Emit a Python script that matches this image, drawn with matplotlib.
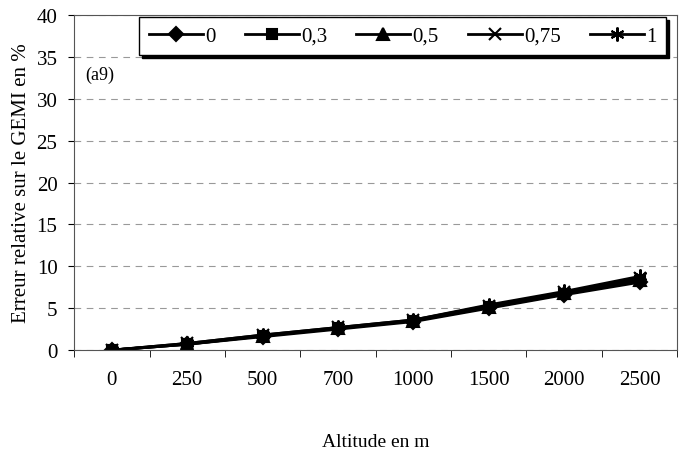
import numpy as np
import matplotlib.pyplot as plt

plt.rcParams['font.family'] = ['Liberation Serif', 'DejaVu Serif']

altitudes = ['0', '250', '500', '700', '1000', '1500', '2000', '2500']
series_labels = ['0', '0,3', '0,5', '0,75', '1']
err_0 = [0, 0.7, 1.6, 2.5, 3.4, 5.0, 6.6, 8.1]
err_03 = [0, 0.7, 1.7, 2.6, 3.5, 5.1, 6.7, 8.3]
err_05 = [0, 0.7, 1.7, 2.6, 3.5, 5.2, 6.8, 8.4]
err_075 = [0, 0.8, 1.8, 2.7, 3.6, 5.3, 6.9, 8.6]
err_1 = [0, 0.8, 1.8, 2.7, 3.6, 5.4, 7.0, 8.8]

series = [err_0, err_03, err_05, err_075, err_1]
markers = ['D', 's', '^', 'x', (6, 2, 0)]
msizes = [7, 7, 8, 8, 10]

fig = plt.figure(figsize=(6.8, 4.56), dpi=100)
ax = fig.add_axes([0.109, 0.230, 0.887, 0.735])

x = np.arange(len(altitudes))
for vals, lab, m, ms in zip(series, series_labels, markers, msizes):
    ax.plot(x, vals, color='black', lw=2, marker=m, ms=ms, mew=1.5,
            label=lab)

ax.set_xlim(-0.5, len(altitudes) - 0.5)
ax.set_ylim(0, 40)
ax.set_yticks(np.arange(0, 41, 5))
ax.set_xticks(x)
ax.set_xticklabels(altitudes)
ax.set_xticks(np.arange(-0.5, len(altitudes), 1), minor=True)
ax.tick_params(axis='x', which='major', length=0, pad=14, labelsize=15)
ax.tick_params(axis='x', which='minor', length=5, direction='out')
ax.tick_params(axis='y', labelsize=15, length=4, direction='out', pad=8)
ax.yaxis.grid(True, color='#999999', ls=(0, (6, 5)), lw=0.8)
for s in ax.spines.values():
    s.set_linewidth(0.8)
    s.set_color('#555555')

ax.set_ylabel('Erreur relative sur le GEMI en %', fontsize=15, labelpad=4)
ax.set_xlabel('Altitude en m', fontsize=14, labelpad=32)
ax.text(0.018, 0.81, '(a9)', transform=ax.transAxes, fontsize=13)

leg = ax.legend(ncol=5, loc='upper right', bbox_to_anchor=(0.985, 1.0),
                fontsize=15, frameon=True, fancybox=False,
                shadow={'color': 'black', 'alpha': 1},
                handlelength=2.6, handletextpad=0.1, columnspacing=1.4,
                borderaxespad=0.1, borderpad=0.45)
leg.get_frame().set_edgecolor('black')
leg.get_frame().set_linewidth(1)

fig.savefig('out.png', dpi=100)
